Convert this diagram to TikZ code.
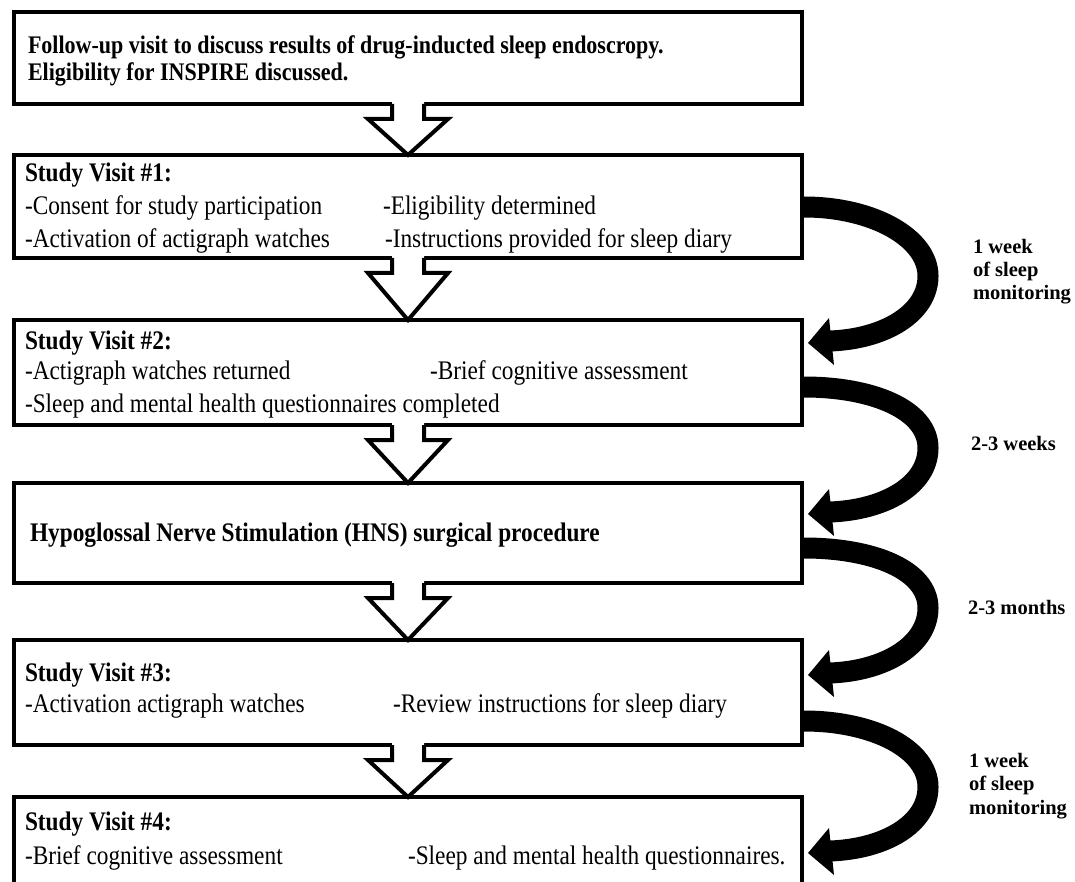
\documentclass[tikz,border=0pt]{standalone}
\usepackage{fontspec}
\setmainfont{Liberation Serif}[FakeStretch=0.87]
\newfontfamily\lblfont{Liberation Serif}
\usetikzlibrary{calc}
\tikzset{
  box/.style={draw=black, line width=4.5pt, rectangle, fill=none, outer sep=0pt, inner sep=0pt, anchor=north west},
  txt/.style={anchor=base west, inner sep=0pt, outer sep=0pt, font=\fontsize{26.8}{30}\selectfont},
  btxt/.style={txt, font=\fontsize{26.8}{30}\selectfont\bfseries},
  toptxt/.style={txt, font=\fontsize{25.3}{29}\selectfont\bfseries},
  lbl/.style={anchor=base west, inner sep=0pt, outer sep=0pt, font=\lblfont\fontsize{20.5}{23}\selectfont\bfseries},
  hollow/.style={draw=black, line width=4pt, line join=miter},
  band/.style={draw=black, line width=21pt, line cap=butt},
}
\newcommand\hollowarrow[2]{%
  \path (#1.south) coordinate (ha) (#2.north) coordinate (hb);
  \fill[white] ($(ha)+(-16,-3)$) -- ($(ha)+(-16,15)$) -- ($(ha)+(-40,15)$) -- (hb) -- ($(ha)+(40,15)$) -- ($(ha)+(16,15)$) -- ($(ha)+(16,-3)$) -- cycle;
  \draw[hollow] ($(ha)+(-16,0)$) -- ($(ha)+(-16,15)$) -- ($(ha)+(-40,15)$) -- (hb) -- ($(ha)+(40,15)$) -- ($(ha)+(16,15)$) -- ($(ha)+(16,0)$);
}
% #1 start y, #2 middle y, #3 tip y, #4 name suffix
\newcommand\loopyarrow[4]{%
  \coordinate (s#4) at (804,#1);
  \coordinate (e#4) at (830,#3-2);
  \coordinate (t#4) at (808,#3);
  \draw[band] (s#4) .. controls (873,#1) and (928,#2-38) .. (928,#2)
     .. controls (928,#2+37) and (885,#3-4) .. (e#4);
  \fill[black] (t#4) -- (829,#3-25) -- (834,#3+22) -- cycle;
}
\begin{document}
\begin{tikzpicture}[x=1pt,y=-1pt]
\useasboundingbox (0,0) rectangle (1075,882);
\clip (0,0) rectangle (1075,882);
\fill[white] (0,0) rectangle (1075,882);

% boxes
\node[box, minimum width=788pt, minimum height=92pt]  (b1) at (14,12) {};
\node[box, minimum width=788pt, minimum height=103pt] (b2) at (14,155) {};
\node[box, minimum width=788pt, minimum height=105pt] (b3) at (14,320) {};
\node[box, minimum width=788pt, minimum height=100pt] (b4) at (14,483) {};
\node[box, minimum width=788pt, minimum height=105pt] (b5) at (14,640) {};
\node[box, minimum width=788pt, minimum height=130pt] (b6) at (14,797) {};

% hollow arrows
\hollowarrow{b1}{b2}
\hollowarrow{b2}{b3}
\hollowarrow{b3}{b4}
\hollowarrow{b4}{b5}
\hollowarrow{b5}{b6}

% texts
\node[toptxt] (t1a) at (28,54) {Follow-up visit to discuss results of drug-inducted sleep endoscropy.};
\node[toptxt] (t1b) at (28,81) {Eligibility for INSPIRE discussed.};

\node[btxt] (t2a) at (25,182) {Study Visit \#1:};
\node[txt] (t2b) at (25,215) {-Consent for study participation};
\node[txt] (t2c) at (383,215) {-Eligibility determined};
\node[txt] (t2d) at (25,248) {-Activation of actigraph watches};
\node[txt] (t2e) at (385,248) {-Instructions provided for sleep diary};

\node[btxt] (t3a) at (25,349) {Study Visit \#2:};
\node[txt] (t3b) at (25,379) {-Actigraph watches returned};
\node[txt] (t3c) at (430,379) {-Brief cognitive assessment};
\node[txt] (t3d) at (25,412) {-Sleep and mental health questionnaires completed};

\node[btxt] (t4a) at (30,541) {Hypoglossal Nerve Stimulation (HNS) surgical procedure};

\node[btxt] (t5a) at (25,681) {Study Visit \#3:};
\node[txt] (t5b) at (25,712) {-Activation actigraph watches};
\node[txt] (t5c) at (393,712) {-Review instructions for sleep diary};

\node[btxt] (t6a) at (25,830) {Study Visit \#4:};
\node[txt] (t6b) at (25,864) {-Brief cognitive assessment};
\node[txt] (t6c) at (408,864) {-Sleep and mental health questionnaires.};

% curved arrows
\loopyarrow{207}{276}{343}{1}
\loopyarrow{387}{448}{514}{2}
\loopyarrow{548}{608}{675}{3}
\loopyarrow{721}{787}{853}{4}

% labels
\node[lbl] (l1a) at (973,254) {1 week};
\node[lbl] (l1b) at (973,277) {of sleep};
\node[lbl] (l1c) at (973,300) {monitoring};
\node[lbl] (l2) at (971,450) {2-3 weeks};
\node[lbl] (l3) at (968,614) {2-3 months};
\node[lbl] (l4a) at (969,767) {1 week};
\node[lbl] (l4b) at (969,790) {of sleep};
\node[lbl] (l4c) at (969,814) {monitoring};
\end{tikzpicture}
\end{document}
